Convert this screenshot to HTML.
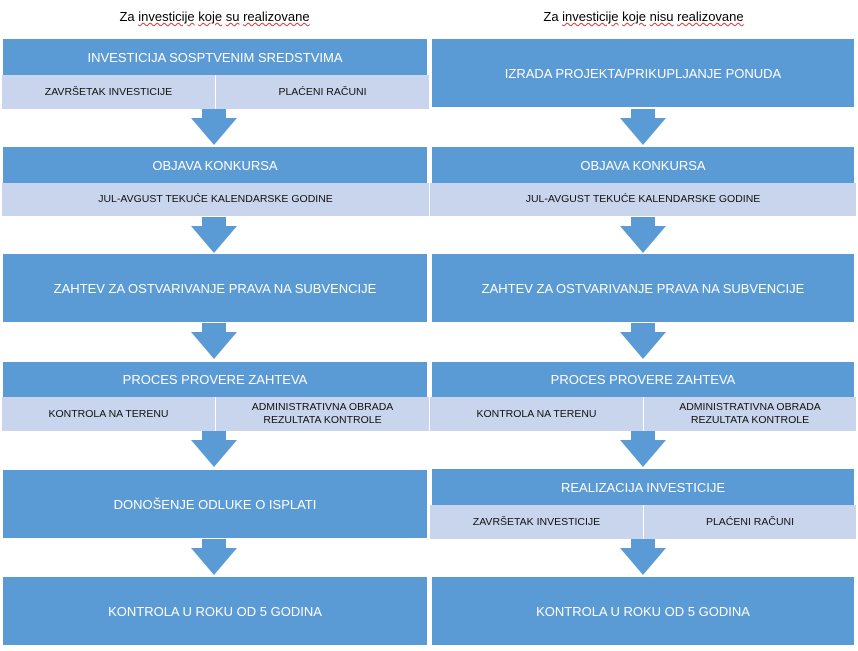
<!DOCTYPE html>
<html><head><meta charset="utf-8"><style>
body{margin:0;width:858px;height:651px;background:#fff;position:relative;overflow:hidden;font-family:"Liberation Sans",sans-serif}
.h{position:absolute;background:#5b9bd5;color:#fff;font-size:13px;display:flex;align-items:center;justify-content:center;text-align:center}
.s{position:absolute;background:#c8d5ec;color:#111;font-size:10.5px;display:flex;align-items:center;justify-content:center;text-align:center;line-height:13px}
.t{position:absolute;top:9px;font-size:13px;color:#000;width:429px;text-align:center}
.t u{text-decoration:underline wavy #d33;text-decoration-thickness:1px}
svg{position:absolute;left:0;top:0}
</style></head><body>
<div class="t" style="left:0">Za <u>investicije</u> <u>koje</u> <u>su</u> <u>realizovane</u></div>
<div class="t" style="left:429px">Za <u>investicije</u> <u>koje</u> <u>nisu</u> <u>realizovane</u></div>

<!-- left -->
<div class="h" style="left:3px;top:39px;width:424px;height:36px">INVESTICIJA SOSPTVENIM SREDSTVIMA</div>
<div class="s" style="left:2px;top:75px;width:213px;height:34px">ZAVRŠETAK INVESTICIJE</div>
<div class="s" style="left:216px;top:75px;width:213px;height:34px">PLAĆENI RAČUNI</div>
<div class="h" style="left:3px;top:147px;width:424px;height:36px">OBJAVA KONKURSA</div>
<div class="s" style="left:2px;top:183px;width:427px;height:33px">JUL-AVGUST TEKUĆE KALENDARSKE GODINE</div>
<div class="h" style="left:3px;top:254px;width:424px;height:68px">ZAHTEV ZA OSTVARIVANJE PRAVA NA SUBVENCIJE</div>
<div class="h" style="left:3px;top:362px;width:424px;height:35px">PROCES PROVERE ZAHTEVA</div>
<div class="s" style="left:2px;top:397px;width:213px;height:34px">KONTROLA NA TERENU</div>
<div class="s" style="left:216px;top:397px;width:213px;height:34px">ADMINISTRATIVNA OBRADA<br>REZULTATA KONTROLE</div>
<div class="h" style="left:3px;top:470px;width:424px;height:68px">DONOŠENJE ODLUKE O ISPLATI</div>
<div class="h" style="left:3px;top:577px;width:424px;height:68px">KONTROLA U ROKU OD 5 GODINA</div>

<!-- right -->
<div class="h" style="left:432px;top:39px;width:422px;height:68px">IZRADA PROJEKTA/PRIKUPLJANJE PONUDA</div>
<div class="h" style="left:432px;top:147px;width:422px;height:36px">OBJAVA KONKURSA</div>
<div class="s" style="left:430px;top:183px;width:426px;height:33px">JUL-AVGUST TEKUĆE KALENDARSKE GODINE</div>
<div class="h" style="left:432px;top:254px;width:422px;height:68px">ZAHTEV ZA OSTVARIVANJE PRAVA NA SUBVENCIJE</div>
<div class="h" style="left:432px;top:362px;width:422px;height:35px">PROCES PROVERE ZAHTEVA</div>
<div class="s" style="left:430px;top:397px;width:213px;height:34px">KONTROLA NA TERENU</div>
<div class="s" style="left:644px;top:397px;width:212px;height:34px">ADMINISTRATIVNA OBRADA<br>REZULTATA KONTROLE</div>
<div class="h" style="left:432px;top:469px;width:422px;height:36px">REALIZACIJA INVESTICIJE</div>
<div class="s" style="left:430px;top:505px;width:213px;height:34px">ZAVRŠETAK INVESTICIJE</div>
<div class="s" style="left:644px;top:505px;width:212px;height:34px">PLAĆENI RAČUNI</div>
<div class="h" style="left:432px;top:577px;width:422px;height:68px">KONTROLA U ROKU OD 5 GODINA</div>

<svg width="858" height="651" fill="#5b9bd5">
<defs><path id="a" d="M-12 0H12V9H23L0 36L-23 9H-12Z"/></defs>
<use href="#a" x="214" y="109"/>
<use href="#a" x="214" y="217"/>
<use href="#a" x="214" y="323"/>
<use href="#a" x="214" y="431"/>
<use href="#a" x="214" y="539"/>
<use href="#a" x="643" y="109"/>
<use href="#a" x="643" y="217"/>
<use href="#a" x="643" y="323"/>
<use href="#a" x="643" y="431"/>
<use href="#a" x="643" y="539"/>
</svg>
</body></html>
